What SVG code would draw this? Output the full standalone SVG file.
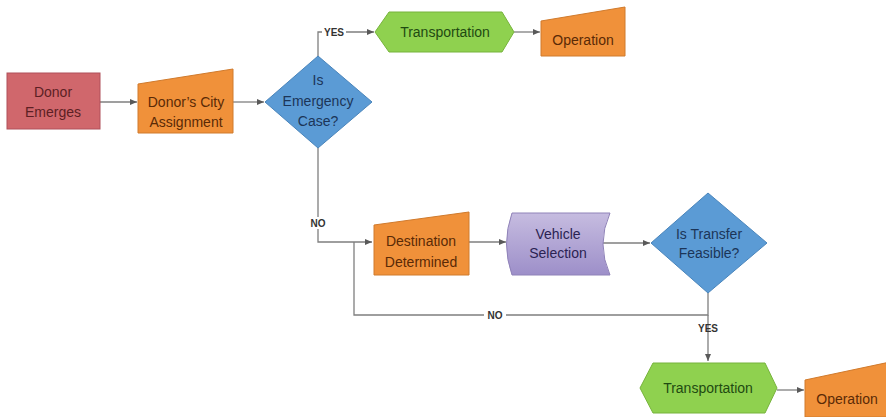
<svg xmlns="http://www.w3.org/2000/svg" width="886" height="417" viewBox="0 0 886 417">
<defs>
<marker id="arr" markerWidth="8" markerHeight="8" refX="7" refY="4" orient="auto" markerUnits="userSpaceOnUse">
<path d="M0,1 L7,4 L0,7 Z" fill="#595959"/>
</marker>
<linearGradient id="purp" x1="0" y1="0" x2="0" y2="1">
<stop offset="0" stop-color="#c6bce0"/>
<stop offset="1" stop-color="#9d8fc9"/>
</linearGradient>
</defs>
<style>
text{font-family:"Liberation Sans",Arial,sans-serif;font-size:14px;text-anchor:middle}
.red{fill:#d0676c;stroke:#b0505a;stroke-width:1}
.org{fill:#f0913a;stroke:#d07a2c;stroke-width:1}
.grn{fill:#8fd14f;stroke:#77b33c;stroke-width:1}
.blu{fill:#5b9bd5;stroke:#4a85bb;stroke-width:1}
.pur{fill:url(#purp);stroke:#8f82b8;stroke-width:1}
.tred{fill:#5c1f24}
.torg{fill:#5a2a06}
.tgrn{fill:#1f4a12}
.tblu{fill:#1c3558}
.tpur{fill:#2b2352}
.lbl{font-size:10px;font-weight:bold;fill:#333}
.con{fill:none;stroke:#7f7f7f;stroke-width:1.3}
</style>
<g id="connectors">
<path class="con" d="M100,102 H137" marker-end="url(#arr)"/>
<path class="con" d="M233,102 H264" marker-end="url(#arr)"/>
<path class="con" d="M318,57 V32 H374" marker-end="url(#arr)"/>
<path class="con" d="M514,32 H540" marker-end="url(#arr)"/>
<path class="con" d="M318,148 V242 H372" marker-end="url(#arr)"/>
<path class="con" d="M469,242 H506" marker-end="url(#arr)"/>
<path class="con" d="M603,243 H650" marker-end="url(#arr)"/>
<path class="con" d="M708,293 V315 H354 V242"/>
<path class="con" d="M708,315 V361" marker-end="url(#arr)"/>
<path class="con" d="M777,390 H804" marker-end="url(#arr)"/>
<rect x="322" y="26" width="24" height="12" fill="#fff"/>
<text class="lbl" x="334" y="36">YES</text>
<rect x="308" y="217" width="20" height="12" fill="#fff"/>
<text class="lbl" x="318" y="227">NO</text>
<rect x="484" y="309" width="22" height="12" fill="#fff"/>
<text class="lbl" x="495" y="319">NO</text>
<text class="lbl" x="708" y="332">YES</text>
</g>
<g id="donor-emerges">
<rect class="red" x="7" y="73" width="93" height="56"/>
<text class="tred" x="53" y="97">Donor</text>
<text class="tred" x="53" y="117">Emerges</text>
</g>
<g id="city-assignment">
<path class="org" d="M138,84 L233,69 V133 H138 Z"/>
<text class="torg" x="186" y="107">Donor’s City</text>
<text class="torg" x="186" y="127">Assignment</text>
</g>
<g id="emergency">
<path class="blu" d="M318,56 L372,102 L318,148 L265,102 Z"/>
<text class="tblu" x="318" y="85">Is</text>
<text class="tblu" x="318" y="106">Emergency</text>
<text class="tblu" x="318" y="126">Case?</text>
</g>
<g id="transport-1">
<path class="grn" d="M375,32 L389,12 H502 L514,32 L502,52 H389 Z"/>
<text class="tgrn" x="445" y="37">Transportation</text>
</g>
<g id="operation-1">
<path class="org" d="M541,21 L625,7 V56 H541 Z"/>
<text class="torg" x="583" y="45">Operation</text>
</g>
<g id="destination">
<path class="org" d="M374,225 L469,212 V275 H374 Z"/>
<text class="torg" x="421" y="246">Destination</text>
<text class="torg" x="421" y="267">Determined</text>
</g>
<g id="vehicle">
<path class="pur" d="M512,213 H610 Q596,244 610,275 H512 Q501,244 512,213 Z"/>
<text class="tpur" x="558" y="239">Vehicle</text>
<text class="tpur" x="558" y="258">Selection</text>
</g>
<g id="transfer">
<path class="blu" d="M708,193 L767,243 L708,293 L651,243 Z"/>
<text class="tblu" x="709" y="239">Is Transfer</text>
<text class="tblu" x="709" y="258">Feasible?</text>
</g>
<g id="transport-2">
<path class="grn" d="M640,388 L653,363 H765 L777,388 L765,413 H653 Z"/>
<text class="tgrn" x="708" y="393">Transportation</text>
</g>
<g id="operation-2">
<path class="org" d="M805,380 L890,362 V417 H805 Z"/>
<text class="torg" x="847" y="404">Operation</text>
</g>
</svg>
